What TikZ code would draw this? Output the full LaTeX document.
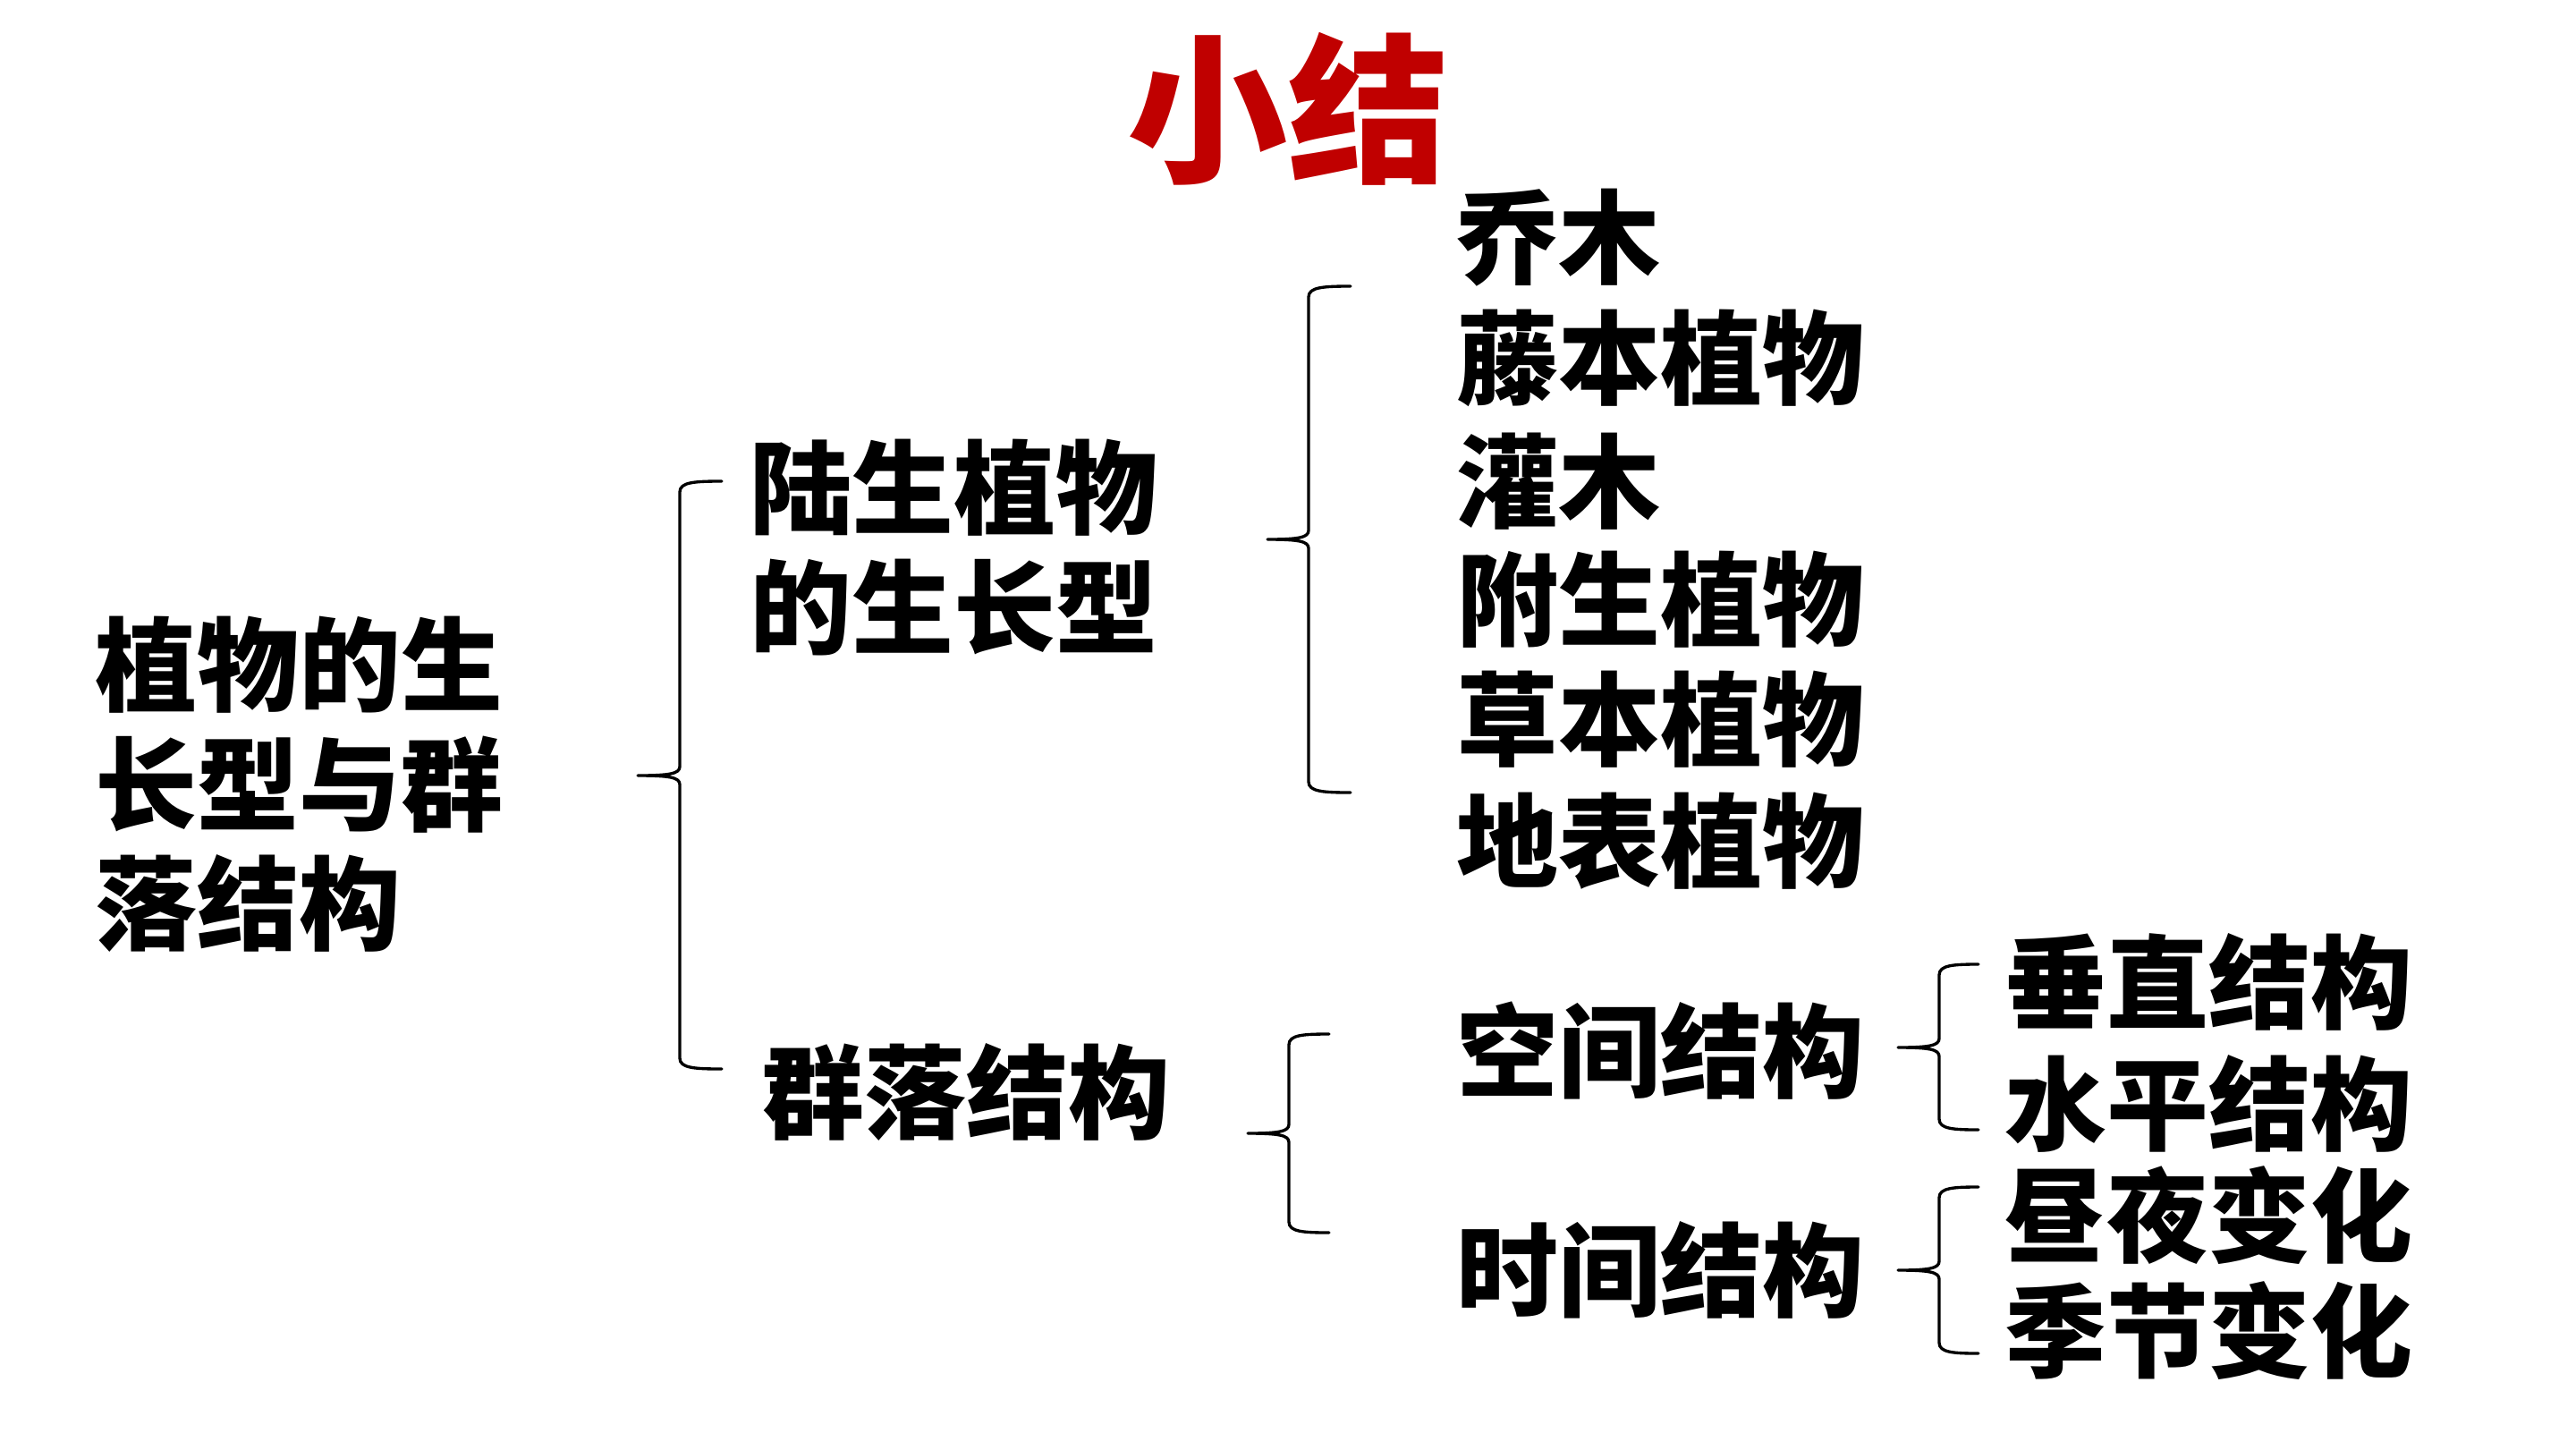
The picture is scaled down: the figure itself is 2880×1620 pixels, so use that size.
\documentclass[tikz,border=0pt]{standalone}
\usepackage{fontspec}
\setmainfont{Noto Sans CJK SC}
\definecolor{titlered}{RGB}{192,0,0}
\tikzset{
  txt/.style={anchor=west, inner sep=0pt, align=left, font=\bfseries\fontsize{32.4}{38}\selectfont},
  ttl/.style={inner sep=0pt, text=titlered, font=\bfseries\fontsize{51}{56}\selectfont},
  brc/.style={line width=0.95pt, line cap=round, line join=round}
}
% brace: xv, ytop, ybot, ymid, xtip, xend
\newcommand{\drawbrc}[6]{%
  \draw[brc] (#6,#2) .. controls ({#1+0.35*(#6-#1)},#2) and (#1,#2+1) .. (#1,#2+12)
    -- (#1,#4-10) .. controls (#1,#4-2) and ({#1-0.25*(#1-#5)},#4) .. (#5,#4)
    .. controls ({#1-0.25*(#1-#5)},#4) and (#1,#4+2) .. (#1,#4+10)
    -- (#1,#3-12) .. controls (#1,#3-1) and ({#1+0.35*(#6-#1)},#3) .. (#6,#3);}
\begin{document}
\begin{tikzpicture}[x=0.01cm, y=-0.01cm]
\useasboundingbox (0,0) rectangle (2880,1620);
\node[ttl] (title) at (1440,122) {小结};
\node[txt] (root) at (106,877) {植物的生\\长型与群\\落结构};
\node[txt] (lu) at (838,612) {陆生植物\\的生长型};
\node[txt] (qun) at (852,1221) {群落结构};
\node[txt] (t1) at (1628,266) {乔木};
\node[txt] (t2) at (1628,400) {藤本植物};
\node[txt] (t3) at (1628,538) {灌木};
\node[txt] (t4) at (1628,670) {附生植物};
\node[txt] (t5) at (1628,804) {草本植物};
\node[txt] (t6) at (1628,940) {地表植物};
\node[txt] (kj) at (1628,1175) {空间结构};
\node[txt] (sj) at (1628,1420) {时间结构};
\node[txt] (c1) at (2241,1098) {垂直结构};
\node[txt] (c2) at (2241,1234) {水平结构};
\node[txt] (c3) at (2241,1359) {昼夜变化};
\node[txt] (c4) at (2241,1488) {季节变化};
\drawbrc{760}{538}{1195}{867}{713}{807}
\drawbrc{1463}{320}{886}{603}{1417}{1510}
\drawbrc{1441}{1156}{1378}{1267}{1395}{1486}
\drawbrc{2168}{1078}{1263}{1171}{2122}{2212}
\drawbrc{2168}{1327}{1513}{1420}{2122}{2212}
\end{tikzpicture}
\end{document}
